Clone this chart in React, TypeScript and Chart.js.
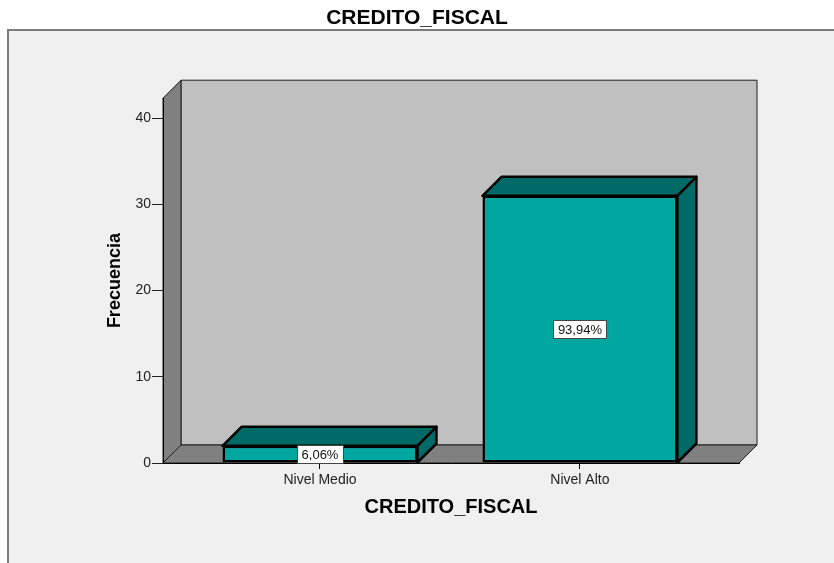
import React, { useEffect, useRef } from 'react';
import { Chart, registerables } from 'chart.js';

Chart.register(...registerables);

// ---- data ----
const CATEGORIES = ['Nivel Medio', 'Nivel Alto'];
const FREQUENCIES = [2, 31];
const Y_TICKS = [0, 10, 20, 30, 40];
const TITLE = 'CREDITO_FISCAL';
const X_TITLE = 'CREDITO_FISCAL';
const Y_TITLE = 'Frecuencia';

// ---- axis ranges / styling ----
const Y_MAX = 42.32;
const X_MIN = 0.396;
const X_MAX = 2.612;
const FONT = "'Liberation Sans', Arial, Helvetica, sans-serif";
const WALL_DEPTH = 18;
const BAR_DEPTH = 19;

type Pt = [number, number];

function poly(ctx: CanvasRenderingContext2D, pts: Pt[], fill: string, stroke: string, lw = 1) {
  ctx.beginPath();
  ctx.moveTo(pts[0][0], pts[0][1]);
  for (let i = 1; i < pts.length; i++) ctx.lineTo(pts[i][0], pts[i][1]);
  ctx.closePath();
  ctx.fillStyle = fill;
  ctx.fill();
  ctx.lineWidth = lw;
  ctx.strokeStyle = stroke;
  ctx.lineJoin = 'round';
  ctx.stroke();
}

const scenePlugin = {
  id: 'scene3d',
  beforeDraw(chart: any) {
    const { ctx, width, height, chartArea: a } = chart;
    ctx.save();
    ctx.fillStyle = '#ffffff';
    ctx.fillRect(0, 0, width, height);
    ctx.fillStyle = '#f0f0f0';
    ctx.fillRect(8, 30, width, height);
    ctx.strokeStyle = '#7c7c7c';
    ctx.lineWidth = 2;
    ctx.strokeRect(8, 30, width + 20, height + 20);
    const L = a.left, R = a.right, T = a.top, B = a.bottom, d = WALL_DEPTH;
    poly(ctx, [[L + d, T - d], [R + d, T - d], [R + d, B - d], [L + d, B - d]], '#c0c0c0', '#1e1e1e');
    poly(ctx, [[L, T], [L + d, T - d], [L + d, B - d], [L, B]], '#808080', '#1e1e1e');
    poly(ctx, [[L, B], [L + d, B - d], [R + d, B - d], [R, B]], '#808080', '#1e1e1e');
    ctx.restore();
  },
  afterDatasetsDraw(chart: any) {
    const { ctx } = chart;
    const meta = chart.getDatasetMeta(0);
    const values: number[] = chart.data.datasets[0].data.map((p: any) => p.y);
    const total = values.reduce((s, v) => s + v, 0);
    const d = BAR_DEPTH;
    ctx.save();
    meta.data.forEach((el: any) => {
      const { x, y, base, width } = el.getProps(['x', 'y', 'base', 'width'], true);
      const l = x - width / 2, r = x + width / 2;
      poly(ctx, [[l, y], [l + d, y - d], [r + d, y - d], [r, y]], '#006b66', '#000', 2.5);
      poly(ctx, [[r, y], [r + d, y - d], [r + d, base - d], [r, base]], '#006b66', '#000', 2.5);
    });
    ctx.font = `13px ${FONT}`;
    ctx.textAlign = 'center';
    ctx.textBaseline = 'middle';
    meta.data.forEach((el: any, i: number) => {
      const { x, y, base } = el.getProps(['x', 'y', 'base'], true);
      const txt = ((values[i] / total) * 100).toFixed(2).replace('.', ',') + '%';
      const cy = (y + base) / 2;
      const tw = ctx.measureText(txt).width;
      const bw = tw + 9, bh = 18;
      ctx.fillStyle = '#ffffff';
      ctx.fillRect(Math.round(x - bw / 2) + 0.5, Math.round(cy - bh / 2) + 0.5, Math.round(bw), bh);
      ctx.strokeStyle = '#444';
      ctx.lineWidth = 1;
      ctx.strokeRect(Math.round(x - bw / 2) + 0.5, Math.round(cy - bh / 2) + 0.5, Math.round(bw), bh);
      ctx.fillStyle = '#111';
      ctx.fillText(txt, x, cy + 1);
    });
    ctx.restore();
  },
};

export default function App() {
  const ref = useRef<HTMLCanvasElement | null>(null);

  useEffect(() => {
    if (!ref.current) return;
    const chart = new Chart(ref.current, {
      type: 'bar',
      data: {
        datasets: [
          {
            label: 'Frecuencia',
            data: FREQUENCIES.map((v, i) => ({ x: i + 1, y: v })),
            backgroundColor: '#00a6a0',
            borderColor: '#000000',
            borderWidth: 2.5,
            borderSkipped: false,
            barPercentage: 0.75,
            categoryPercentage: 1,
          } as any,
        ],
      },
      options: {
        responsive: false,
        animation: false,
        devicePixelRatio: 1,
        layout: { padding: { left: 0, right: 0, top: 0, bottom: 0 } },
        plugins: {
          legend: { display: false },
          tooltip: { enabled: false },
          title: {
            display: true,
            text: TITLE,
            color: '#000',
            font: { family: FONT, size: 21, weight: 'bold' },
            padding: { top: 6, bottom: 67 },
          },
        },
        scales: {
          x: {
            type: 'linear',
            min: X_MIN,
            max: X_MAX,
            offset: false,
            afterBuildTicks: (s: any) => {
              s.ticks = CATEGORIES.map((_, i) => ({ value: i + 1 }));
            },
            afterFit: (s: any) => {
              s.height = 100;
            },
            grid: { drawOnChartArea: false, drawTicks: true, offset: false, tickLength: 6, color: '#000' },
            border: { display: true, color: '#000', width: 1 },
            ticks: {
              autoSkip: false,
              maxRotation: 0,
              padding: 3,
              color: '#222',
              font: { family: FONT, size: 14 },
              callback: (v: any) => CATEGORIES[Math.round(Number(v)) - 1] ?? '',
            },
            title: {
              display: true,
              text: X_TITLE,
              color: '#000',
              font: { family: FONT, size: 20, weight: 'bold' },
              padding: { top: 0, bottom: 44 },
            },
          },
          y: {
            min: 0,
            max: Y_MAX,
            afterBuildTicks: (s: any) => {
              s.ticks = Y_TICKS.map((v) => ({ value: v }));
            },
            afterFit: (s: any) => {
              s.width = 163;
            },
            grid: { drawOnChartArea: false, drawTicks: true, tickLength: 11, color: '#222' },
            border: { display: true, color: '#000', width: 1 },
            ticks: { padding: 1, color: '#222', font: { family: FONT, size: 14 } },
            title: {
              display: true,
              text: Y_TITLE,
              color: '#000',
              font: { family: FONT, size: 18, weight: 'bold' },
              padding: { top: 104, bottom: 0 },
            },
          },
          yRight: {
            position: 'right',
            display: true,
            min: 0,
            max: 1,
            grid: { display: false, drawTicks: false },
            border: { display: false },
            ticks: { display: false },
            afterFit: (s: any) => {
              s.width = 95;
            },
          },
        },
      } as any,
      plugins: [scenePlugin],
    });
    return () => chart.destroy();
  }, []);

  return (
    <div style={{ position: 'absolute', left: 0, top: 0, width: 834, height: 563 }}>
      <canvas ref={ref} width={834} height={563} style={{ display: 'block', width: 834, height: 563 }} />
    </div>
  );
}
